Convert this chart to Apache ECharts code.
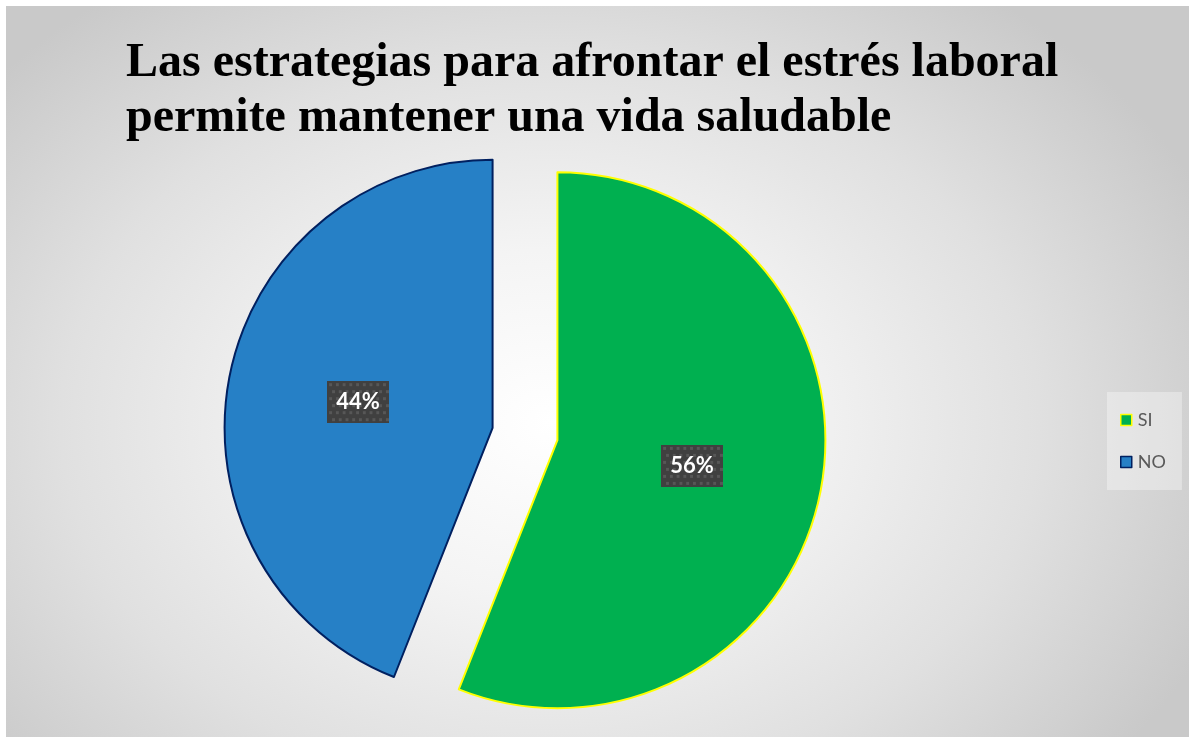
<!DOCTYPE html>
<html>
<head>
<meta charset="utf-8">
<script src="https://cdn.jsdelivr.net/npm/echarts@6/dist/echarts.min.js"></script>
<style>
  html, body { margin: 0; padding: 0; background: #ffffff; }
  #chart {
    position: absolute; left: 6px; top: 6px; width: 1183px; height: 731px;
    background: radial-gradient(ellipse 720px 540px at 46% 57%, #ffffff 0%, #f4f4f4 32%, #e0e0e0 68%, #c9c9c9 100%);
  }
</style>
</head>
<body>
<div id="chart"></div>
<script>
const titleLines = ["Las estrategias para afrontar el estrés laboral", "permite mantener una vida saludable"];
const categories = ["SI", "NO"];
const values = [56, 44];
const fills = ["#00B050", "#2680C6"];
const borders = ["#FFFF00", "#002060"];

// dotted dark fill behind the percentage labels
function dotPattern(w, h) {
  const c = document.createElement("canvas");
  c.width = w; c.height = h;
  const g = c.getContext("2d");
  g.fillStyle = "#404040";
  g.fillRect(0, 0, w, h);
  g.fillStyle = "#575757";
  for (let y = 2; y < h; y += 7) {
    for (let x = (y % 14 === 2 ? 2 : 5); x < w; x += 7) g.fillRect(x, y, 3, 3);
  }
  return c;
}

const chart = echarts.init(document.getElementById("chart"), null, { renderer: "canvas" });
chart.setOption({
  backgroundColor: "transparent",
  animation: false,
  title: {
    text: titleLines.join("\n"),
    left: 120,
    top: 30,
    padding: 0,
    textStyle: { fontFamily: "Liberation Serif", fontWeight: "bold", fontSize: 48, lineHeight: 55, color: "#000000" },
  },
  legend: {
    orient: "vertical",
    left: 1101,
    top: 386,
    padding: [19, 16, 19, 13],
    backgroundColor: "rgba(255,255,255,0.35)",
    itemWidth: 11,
    itemHeight: 11,
    itemGap: 24,
    icon: "rect",
    itemStyle: { borderWidth: 1.5 },
    textStyle: { fontFamily: "Lato", fontSize: 18, lineHeight: 13, color: "#595959", padding: [0, 0, 0, 1] },
    data: categories,
  },
  series: [{
    type: "pie",
    center: [519, 428],
    radius: 268,
    startAngle: 90,
    clockwise: true,
    selectedMode: "multiple",
    selectedOffset: 33,
    emphasis: { disabled: true },
    label: {
      position: "inside",
      formatter: "{d}%",
      fontFamily: "Lato",
      fontWeight: "bold",
      fontSize: 22,
      lineHeight: 22,
      color: "#ffffff",
      padding: [10, 9],
      backgroundColor: { image: dotPattern(64, 42) },
      shadowColor: "rgba(0,0,0,0.55)",
      shadowBlur: 5,
      shadowOffsetX: 3,
      shadowOffsetY: 3,
    },
    labelLine: { show: false },
    data: categories.map((name, i) => ({
      name: name,
      value: values[i],
      selected: true,
      itemStyle: { color: fills[i], borderColor: borders[i], borderWidth: 2 },
    })),
  }],
});
</script>
</body>
</html>
